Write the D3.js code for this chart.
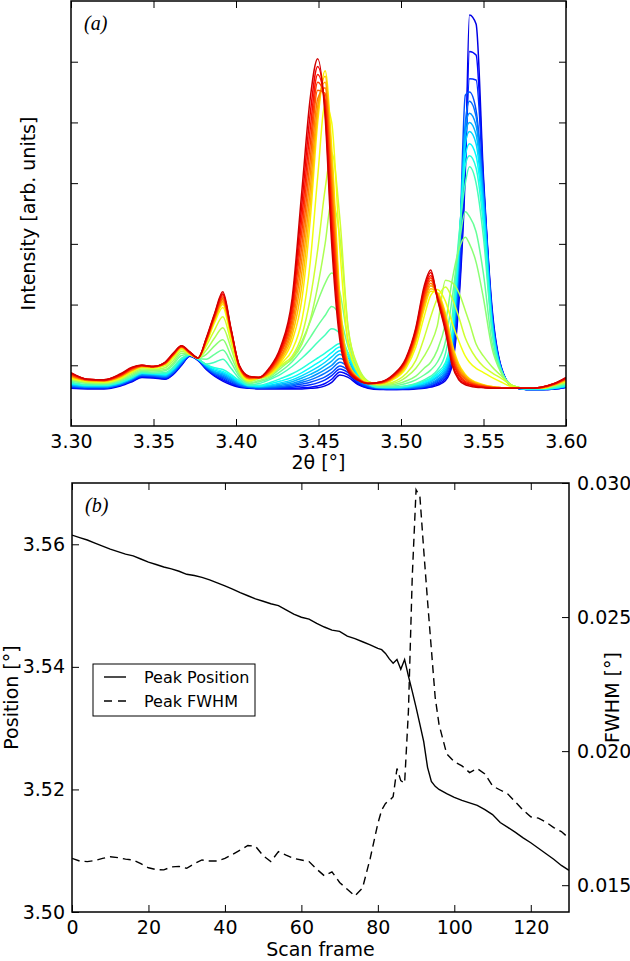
<!DOCTYPE html>
<html><head><meta charset="utf-8">
<script src="https://cdn.jsdelivr.net/npm/d3@7"></script>
<style>body{margin:0;background:#fff}svg{display:block}</style>
</head><body>
<svg id="c" width="630" height="961"></svg>
<script>
// ---------- Panel (a) data ----------
const twoTheta = [3.300,3.310,3.320,3.330,3.337,3.343,3.350,3.357,3.362,3.367,
  3.372,3.377,3.382,3.387,3.392,3.397,3.402,3.408,3.414,3.420,
  3.427,3.434,3.440,3.445,3.4495,3.454,3.458,3.463,3.468,3.474,
  3.480,3.487,3.495,3.503,3.509,3.514,3.518,3.522,3.527,3.531,
  3.535,3.539,3.5415,3.5455,3.550,3.555,3.561,3.568,3.576,3.585,
  3.593,3.600];
const twoThetaTicks = [3.30,3.35,3.40,3.45,3.50,3.55,3.60];
const intensityTicks = [1,2,3,4,5,6];

const blue0 = [0.62,0.61,0.61,0.66,0.73,0.80,0.79,0.77,0.85,1.00,1.15,1.08,0.93,0.82,0.74,0.68,0.64,0.62,0.61,0.61,0.61,0.61,0.61,0.62,0.63,0.66,0.72,0.84,0.80,0.68,0.62,0.60,0.60,0.60,0.61,0.62,0.64,0.67,0.75,1.00,2.00,4.20,6.77,6.62,4.10,2.00,0.95,0.64,0.60,0.60,0.61,0.64];
const blue1 = [0.63,0.62,0.62,0.67,0.74,0.81,0.80,0.78,0.86,1.01,1.15,1.08,0.94,0.83,0.76,0.70,0.65,0.63,0.62,0.62,0.62,0.62,0.63,0.64,0.66,0.70,0.77,0.89,0.84,0.70,0.63,0.61,0.60,0.61,0.62,0.63,0.65,0.69,0.78,1.05,2.10,4.30,6.17,6.11,4.00,1.95,0.94,0.64,0.60,0.60,0.61,0.64];
const blue2 = [0.64,0.63,0.63,0.68,0.75,0.82,0.81,0.79,0.87,1.02,1.16,1.09,0.95,0.85,0.78,0.71,0.66,0.63,0.62,0.62,0.63,0.64,0.66,0.68,0.71,0.76,0.83,0.94,0.88,0.72,0.64,0.61,0.61,0.61,0.62,0.64,0.66,0.71,0.81,1.10,2.25,4.40,5.72,5.70,3.95,1.90,0.93,0.64,0.60,0.60,0.61,0.64];
const blue3 = [0.65,0.63,0.63,0.68,0.76,0.83,0.82,0.80,0.88,1.03,1.16,1.09,0.96,0.86,0.80,0.73,0.67,0.64,0.63,0.63,0.64,0.66,0.69,0.72,0.76,0.81,0.88,0.99,0.92,0.74,0.65,0.62,0.61,0.62,0.63,0.65,0.68,0.73,0.84,1.20,2.50,5.45,5.50,5.20,3.85,1.85,0.92,0.64,0.60,0.60,0.62,0.65];
const blue4 = [0.66,0.64,0.64,0.69,0.77,0.84,0.83,0.81,0.89,1.04,1.17,1.10,0.97,0.87,0.82,0.75,0.68,0.64,0.63,0.64,0.65,0.68,0.72,0.76,0.81,0.87,0.94,1.05,0.97,0.76,0.66,0.62,0.62,0.62,0.64,0.66,0.69,0.75,0.87,1.25,2.60,5.00,5.35,5.10,3.80,1.85,0.92,0.64,0.60,0.60,0.62,0.65];
const blue5 = [0.67,0.65,0.65,0.70,0.78,0.85,0.84,0.82,0.90,1.05,1.17,1.10,0.98,0.89,0.84,0.77,0.70,0.65,0.64,0.65,0.67,0.70,0.75,0.80,0.86,0.93,1.00,1.11,1.02,0.78,0.67,0.63,0.62,0.63,0.65,0.67,0.71,0.77,0.90,1.30,2.70,4.90,5.15,4.95,3.75,1.80,0.91,0.64,0.60,0.60,0.62,0.65];
const blue6 = [0.68,0.65,0.65,0.70,0.78,0.86,0.85,0.83,0.92,1.06,1.17,1.10,0.99,0.90,0.86,0.79,0.71,0.66,0.65,0.66,0.69,0.73,0.79,0.85,0.91,0.99,1.07,1.18,1.07,0.80,0.68,0.63,0.63,0.64,0.66,0.69,0.73,0.80,0.93,1.35,2.80,4.80,5.00,4.80,3.65,1.78,0.91,0.65,0.61,0.61,0.62,0.66];
const blue7 = [0.69,0.66,0.66,0.71,0.79,0.87,0.86,0.84,0.93,1.08,1.17,1.10,1.00,0.92,0.88,0.81,0.72,0.66,0.65,0.67,0.71,0.76,0.83,0.90,0.97,1.05,1.14,1.24,1.12,0.82,0.69,0.64,0.63,0.64,0.67,0.70,0.75,0.82,0.97,1.40,2.85,4.65,4.85,4.65,3.55,1.74,0.90,0.65,0.61,0.61,0.62,0.66];
const blue8 = [0.70,0.67,0.67,0.72,0.80,0.87,0.86,0.85,0.94,1.09,1.17,1.10,1.01,0.94,0.90,0.83,0.74,0.67,0.66,0.69,0.74,0.80,0.88,0.96,1.04,1.12,1.21,1.30,1.16,0.84,0.70,0.64,0.64,0.65,0.68,0.72,0.77,0.85,1.01,1.48,2.90,4.45,4.65,4.45,3.45,1.70,0.89,0.65,0.61,0.61,0.63,0.66];
const blue9 = [0.71,0.67,0.67,0.72,0.80,0.88,0.87,0.86,0.95,1.10,1.17,1.10,1.01,0.96,0.93,0.85,0.75,0.67,0.67,0.71,0.78,0.86,0.95,1.04,1.12,1.20,1.28,1.36,1.20,0.86,0.70,0.65,0.64,0.66,0.69,0.74,0.79,0.88,1.05,1.55,3.00,4.30,4.45,4.25,3.30,1.62,0.88,0.65,0.61,0.61,0.63,0.67];
const mix0 = [0.72,0.68,0.68,0.73,0.81,0.88,0.87,0.88,0.97,1.12,1.17,1.11,1.02,1.05,1.10,0.95,0.78,0.68,0.70,0.76,0.85,0.98,1.12,1.25,1.38,1.50,1.60,1.52,1.20,0.88,0.70,0.64,0.64,0.66,0.70,0.76,0.82,0.92,1.20,1.80,3.10,4.00,4.27,4.00,3.10,1.60,0.90,0.66,0.62,0.62,0.64,0.68];
const mix1 = [0.74,0.70,0.69,0.75,0.83,0.90,0.89,0.91,1.01,1.16,1.18,1.11,1.10,1.18,1.25,1.05,0.82,0.70,0.73,0.78,0.90,1.06,1.26,1.46,1.65,1.82,1.97,1.80,1.30,0.92,0.72,0.66,0.66,0.70,0.76,0.84,0.92,1.05,1.40,2.10,2.95,3.53,3.45,3.20,2.50,1.40,0.88,0.66,0.62,0.62,0.65,0.70];
const mix2 = [0.76,0.71,0.70,0.76,0.85,0.92,0.91,0.93,1.04,1.20,1.18,1.12,1.18,1.32,1.42,1.15,0.85,0.71,0.75,0.80,0.95,1.12,1.40,1.72,2.05,2.35,2.52,2.20,1.40,0.95,0.73,0.67,0.68,0.74,0.82,0.95,1.05,1.25,1.70,2.40,2.90,3.11,3.00,2.70,2.10,1.30,0.86,0.66,0.62,0.62,0.66,0.71];
const mix3 = [0.77,0.72,0.71,0.77,0.87,0.94,0.93,0.96,1.08,1.23,1.18,1.12,1.25,1.45,1.62,1.28,0.88,0.73,0.78,0.82,0.98,1.10,1.35,1.75,2.30,3.00,3.72,3.10,1.60,0.98,0.74,0.68,0.70,0.80,0.95,1.15,1.35,1.65,2.40,2.36,2.20,1.90,1.70,1.35,1.15,0.98,0.82,0.66,0.62,0.62,0.67,0.72];
const mix4 = [0.78,0.73,0.72,0.78,0.89,0.96,0.95,0.99,1.12,1.26,1.18,1.12,1.32,1.58,1.80,1.38,0.90,0.74,0.80,0.84,1.00,1.15,1.50,2.10,2.90,3.90,4.50,3.40,1.60,0.95,0.73,0.68,0.72,0.86,1.08,1.45,1.80,2.10,2.29,2.10,1.80,1.45,1.30,1.12,0.98,0.88,0.78,0.66,0.62,0.62,0.68,0.73];
const mix5 = [0.79,0.74,0.73,0.79,0.90,0.97,0.96,1.01,1.14,1.28,1.18,1.12,1.36,1.70,1.95,1.45,0.92,0.75,0.80,0.84,1.02,1.25,1.75,2.70,4.10,5.30,5.00,2.90,1.35,0.88,0.72,0.70,0.76,0.95,1.30,1.80,2.15,2.25,2.05,1.70,1.40,1.15,1.05,0.95,0.88,0.80,0.72,0.64,0.62,0.62,0.69,0.74];
const red0 = [0.80,0.75,0.74,0.80,0.91,0.98,0.97,1.02,1.16,1.29,1.19,1.12,1.38,1.74,2.00,1.52,0.95,0.77,0.79,0.85,1.05,1.40,2.10,3.40,5.00,5.85,4.60,2.10,1.05,0.80,0.71,0.70,0.77,0.98,1.38,1.92,2.22,2.20,1.85,1.35,1.02,0.85,0.78,0.72,0.68,0.65,0.63,0.62,0.62,0.63,0.68,0.75];
const red1 = [0.81,0.75,0.74,0.81,0.92,0.98,0.97,1.02,1.16,1.29,1.19,1.12,1.39,1.75,2.03,1.53,0.96,0.78,0.79,0.86,1.08,1.49,2.33,3.65,5.13,5.76,4.40,2.01,1.03,0.79,0.71,0.70,0.78,1.00,1.41,1.97,2.26,2.19,1.81,1.31,0.99,0.83,0.77,0.71,0.67,0.65,0.63,0.62,0.62,0.63,0.68,0.76];
const red2 = [0.82,0.75,0.74,0.82,0.92,0.98,0.97,1.03,1.17,1.30,1.20,1.12,1.40,1.77,2.05,1.54,0.96,0.78,0.79,0.87,1.11,1.58,2.55,3.90,5.26,5.66,4.20,1.93,1.01,0.79,0.71,0.70,0.79,1.02,1.44,2.02,2.31,2.18,1.78,1.26,0.96,0.81,0.75,0.70,0.67,0.64,0.63,0.62,0.62,0.63,0.68,0.76];
const red3 = [0.83,0.76,0.75,0.82,0.93,0.99,0.97,1.03,1.17,1.30,1.20,1.12,1.41,1.78,2.08,1.55,0.97,0.79,0.79,0.89,1.14,1.66,2.78,4.15,5.39,5.57,4.00,1.84,0.99,0.78,0.71,0.71,0.80,1.03,1.47,2.06,2.35,2.16,1.74,1.22,0.92,0.79,0.74,0.69,0.66,0.64,0.63,0.62,0.62,0.63,0.69,0.77];
const red4 = [0.84,0.76,0.75,0.83,0.94,0.99,0.98,1.03,1.18,1.31,1.20,1.12,1.41,1.79,2.10,1.56,0.97,0.79,0.80,0.90,1.18,1.75,3.00,4.40,5.53,5.48,3.80,1.75,0.98,0.78,0.70,0.71,0.81,1.05,1.50,2.11,2.40,2.15,1.70,1.18,0.89,0.77,0.72,0.68,0.66,0.64,0.62,0.62,0.62,0.63,0.69,0.78];
const red5 = [0.85,0.76,0.75,0.84,0.95,0.99,0.98,1.04,1.18,1.31,1.21,1.12,1.42,1.81,2.13,1.57,0.98,0.80,0.80,0.91,1.21,1.84,3.23,4.65,5.66,5.38,3.60,1.66,0.96,0.77,0.70,0.71,0.81,1.07,1.53,2.16,2.44,2.14,1.66,1.13,0.86,0.74,0.71,0.67,0.65,0.63,0.62,0.62,0.62,0.64,0.69,0.78];
const red6 = [0.86,0.77,0.76,0.84,0.95,1.00,0.98,1.04,1.19,1.31,1.21,1.12,1.43,1.82,2.16,1.58,0.99,0.81,0.80,0.92,1.24,1.93,3.45,4.90,5.79,5.29,3.40,1.58,0.94,0.77,0.70,0.72,0.82,1.09,1.56,2.21,2.48,2.13,1.63,1.09,0.83,0.72,0.69,0.66,0.64,0.63,0.62,0.62,0.62,0.64,0.70,0.79];
const red7 = [0.87,0.77,0.76,0.85,0.96,1.00,0.98,1.05,1.19,1.32,1.22,1.12,1.44,1.84,2.18,1.59,0.99,0.81,0.80,0.94,1.27,2.01,3.68,5.15,5.92,5.19,3.20,1.49,0.92,0.76,0.70,0.72,0.83,1.10,1.59,2.25,2.53,2.11,1.59,1.04,0.79,0.70,0.68,0.65,0.64,0.62,0.62,0.62,0.62,0.64,0.70,0.79];
const red8 = [0.88,0.77,0.76,0.86,0.97,1.00,0.98,1.05,1.20,1.32,1.22,1.12,1.45,1.85,2.21,1.60,1.00,0.82,0.80,0.95,1.30,2.10,3.90,5.40,6.05,5.10,3.00,1.40,0.90,0.75,0.70,0.72,0.84,1.12,1.62,2.30,2.57,2.10,1.55,1.00,0.76,0.68,0.66,0.64,0.63,0.62,0.62,0.62,0.62,0.64,0.70,0.80];

const spectra = [blue0,blue1,blue2,blue3,blue4,blue5,blue6,blue7,blue8,blue9,
  mix0,mix1,mix2,mix3,mix4,mix5,red0,red1,red2,red3,red4,red5,red6,red7,red8];

// ---------- Panel (b) data ----------
const scanFrames = [0,2,4,6,8,10,12,14,16,18,20,22,24,26,28,30,32,34,36,38,40,42,44,46,48,50,52,54,56,58,60,62,64,66,68,70,72,74,76,78,80,
  81,82,83,84,85,86,87,88,89,90,91,92,93,94,95,96,
  98,100,102,104,106,108,110,112,114,116,118,120,122,124,126,128,130];
const peakPosition = [3.5615,3.5611,3.5607,3.5602,3.5597,3.5592,3.5588,3.5584,3.5581,3.5576,3.5571,3.5567,3.5563,3.5560,3.5556,3.5551,3.5549,3.5546,3.5542,3.5537,3.5532,3.5527,3.5521,3.5516,3.5511,3.5507,3.5503,3.5500,3.5493,3.5486,3.5481,3.5478,3.5471,3.5465,3.5460,3.5458,3.5450,3.5446,3.5441,3.5436,3.5430,
  3.5428,3.5422,3.5413,3.5406,3.5412,3.5396,3.5412,3.5385,3.5360,3.5334,3.5306,3.5278,3.5236,3.5213,3.5205,3.5200,
  3.5193,3.5187,3.5182,3.5178,3.5174,3.5167,3.5159,3.5146,3.5138,3.5130,3.5121,3.5113,3.5104,3.5095,3.5086,3.5076,3.5068];
const peakFWHM = [0.01600,0.01590,0.01588,0.01592,0.01600,0.01606,0.01603,0.01597,0.01594,0.01580,0.01565,0.01558,0.01557,0.01568,0.01570,0.01563,0.01580,0.01594,0.01590,0.01590,0.01600,0.01615,0.01631,0.01648,0.01645,0.01610,0.01588,0.01625,0.01612,0.01600,0.01594,0.01588,0.01560,0.01535,0.01550,0.01510,0.01485,0.01460,0.01490,0.01600,0.01730,
  0.01780,0.01805,0.01815,0.01830,0.01935,0.01890,0.01880,0.02150,0.02650,0.02975,0.02950,0.02750,0.02560,0.02380,0.02200,0.02100,
  0.01990,0.01960,0.01945,0.01920,0.01935,0.01915,0.01870,0.01855,0.01840,0.01810,0.01780,0.01755,0.01750,0.01735,0.01715,0.01700,0.01675];
const frameTicks = [0,20,40,60,80,100,120];
const positionTicks = [3.50,3.52,3.54,3.56];
const fwhmTicks = [0.015,0.020,0.025,0.030];

// ---------- Drawing ----------
const svg = d3.select("#c");
const FONT = "DejaVu Sans";
const jet = d3.scaleLinear()
  .domain([0,0.125,0.375,0.625,0.875,1])
  .range(["#00007f","#0000ff","#00ffff","#ffff00","#ff0000","#7f0000"]);

function styleAxis(g, size){
  g.select(".domain").remove();
  g.selectAll(".tick line").attr("stroke","#000").attr("stroke-width",1);
  g.selectAll(".tick text").attr("font-family",FONT).attr("font-size",size).attr("fill","#000");
}

// Panel (a)
const A = {l:71, r:566, t:1, b:426};
const xa = d3.scaleLinear().domain([3.30,3.60]).range([A.l,A.r]);
const ya = d3.scaleLinear().domain([0,7]).range([A.b,A.t]);

svg.append("clipPath").attr("id","clipA").append("rect")
  .attr("x",A.l).attr("y",A.t).attr("width",A.r-A.l).attr("height",A.b-A.t);

const lineA = d3.line().x((d,i)=>xa(twoTheta[i])).y(d=>ya(d)).curve(d3.curveMonotoneX);
const n = spectra.length;
svg.append("g").attr("clip-path","url(#clipA)")
  .selectAll("path").data(spectra).join("path")
  .attr("d",lineA).attr("fill","none")
  .attr("stroke",(d,i)=>jet(0.1+0.82*i/(n-1)))
  .attr("stroke-width",1.5).attr("stroke-linejoin","round");

styleAxis(svg.append("g").attr("transform",`translate(0,${A.b})`)
  .call(d3.axisBottom(xa).tickValues(twoThetaTicks).tickFormat(d3.format(".2f")).tickSizeInner(-7).tickSizeOuter(0).tickPadding(9)),19);
styleAxis(svg.append("g").attr("transform",`translate(0,${A.t})`)
  .call(d3.axisTop(xa).tickValues(twoThetaTicks).tickFormat("").tickSizeInner(-7).tickSizeOuter(0)),19);
styleAxis(svg.append("g").attr("transform",`translate(${A.l},0)`)
  .call(d3.axisLeft(ya).tickValues(intensityTicks).tickFormat("").tickSizeInner(-7).tickSizeOuter(0)),19);
styleAxis(svg.append("g").attr("transform",`translate(${A.r},0)`)
  .call(d3.axisRight(ya).tickValues(intensityTicks).tickFormat("").tickSizeInner(-7).tickSizeOuter(0)),19);
svg.append("rect").attr("x",A.l).attr("y",A.t).attr("width",A.r-A.l).attr("height",A.b-A.t)
  .attr("fill","none").attr("stroke","#000").attr("stroke-width",1.5);

svg.append("text").attr("transform",`translate(35,${(A.t+A.b)/2}) rotate(-90)`)
  .attr("text-anchor","middle").attr("font-family",FONT).attr("font-size",19).text("Intensity [arb. units]");
svg.append("text").attr("x",(A.l+A.r)/2).attr("y",469).attr("text-anchor","middle")
  .attr("font-family",FONT).attr("font-size",19).text("2θ [°]");
svg.append("text").attr("x",84).attr("y",30).attr("font-family","Liberation Serif")
  .attr("font-style","italic").attr("font-size",20).text("(a)");

// Panel (b)
const B = {l:72, r:569, t:483, b:912};
const xb = d3.scaleLinear().domain([0,130]).range([B.l,B.r]);
const yPos = d3.scaleLinear().domain([3.50,3.57]).range([B.b,B.t]);
const yFw = d3.scaleLinear().domain([0.014,0.030]).range([B.b,B.t]);

svg.append("clipPath").attr("id","clipB").append("rect")
  .attr("x",B.l).attr("y",B.t).attr("width",B.r-B.l).attr("height",B.b-B.t);
const gB = svg.append("g").attr("clip-path","url(#clipB)");
gB.append("path").datum(peakPosition)
  .attr("d",d3.line().x((d,i)=>xb(scanFrames[i])).y(d=>yPos(d)))
  .attr("fill","none").attr("stroke","#000").attr("stroke-width",1.4);
gB.append("path").datum(peakFWHM)
  .attr("d",d3.line().x((d,i)=>xb(scanFrames[i])).y(d=>yFw(d)))
  .attr("fill","none").attr("stroke","#000").attr("stroke-width",1.4).attr("stroke-dasharray","8,5");

styleAxis(svg.append("g").attr("transform",`translate(0,${B.b})`)
  .call(d3.axisBottom(xb).tickValues(frameTicks).tickFormat(d3.format("d")).tickSizeInner(-7).tickSizeOuter(0).tickPadding(9)),19);
styleAxis(svg.append("g").attr("transform",`translate(0,${B.t})`)
  .call(d3.axisTop(xb).tickValues(frameTicks).tickFormat("").tickSizeInner(-7).tickSizeOuter(0)),19);
styleAxis(svg.append("g").attr("transform",`translate(${B.l},0)`)
  .call(d3.axisLeft(yPos).tickValues(positionTicks).tickFormat(d3.format(".2f")).tickSizeInner(-7).tickSizeOuter(0).tickPadding(7)),19);
styleAxis(svg.append("g").attr("transform",`translate(${B.r},0)`)
  .call(d3.axisRight(yFw).tickValues(fwhmTicks).tickFormat(d3.format(".3f")).tickSizeInner(-7).tickSizeOuter(0).tickPadding(8)),19);
svg.append("rect").attr("x",B.l).attr("y",B.t).attr("width",B.r-B.l).attr("height",B.b-B.t)
  .attr("fill","none").attr("stroke","#000").attr("stroke-width",1.5);

svg.append("text").attr("transform",`translate(18,${(B.t+B.b)/2}) rotate(-90)`)
  .attr("text-anchor","middle").attr("font-family",FONT).attr("font-size",19).text("Position [°]");
svg.append("text").attr("transform",`translate(619,${(B.t+B.b)/2}) rotate(-90)`)
  .attr("text-anchor","middle").attr("font-family",FONT).attr("font-size",19).text("FWHM [°]");
svg.append("text").attr("x",(B.l+B.r)/2).attr("y",956).attr("text-anchor","middle")
  .attr("font-family",FONT).attr("font-size",19).text("Scan frame");
svg.append("text").attr("x",85).attr("y",512).attr("font-family","Liberation Serif")
  .attr("font-style","italic").attr("font-size",20).text("(b)");

// Legend
const leg = svg.append("g");
leg.append("rect").attr("x",93).attr("y",664).attr("width",162).attr("height",52)
  .attr("fill","#fff").attr("stroke","#000").attr("stroke-width",1);
leg.append("line").attr("x1",104).attr("x2",126).attr("y1",677).attr("y2",677)
  .attr("stroke","#000").attr("stroke-width",1.4);
leg.append("line").attr("x1",104).attr("x2",126).attr("y1",701).attr("y2",701)
  .attr("stroke","#000").attr("stroke-width",1.4).attr("stroke-dasharray","8,6");
leg.append("text").attr("x",144).attr("y",683).attr("font-family",FONT).attr("font-size",16).text("Peak Position");
leg.append("text").attr("x",144).attr("y",707).attr("font-family",FONT).attr("font-size",16).text("Peak FWHM");
</script>
</body></html>
